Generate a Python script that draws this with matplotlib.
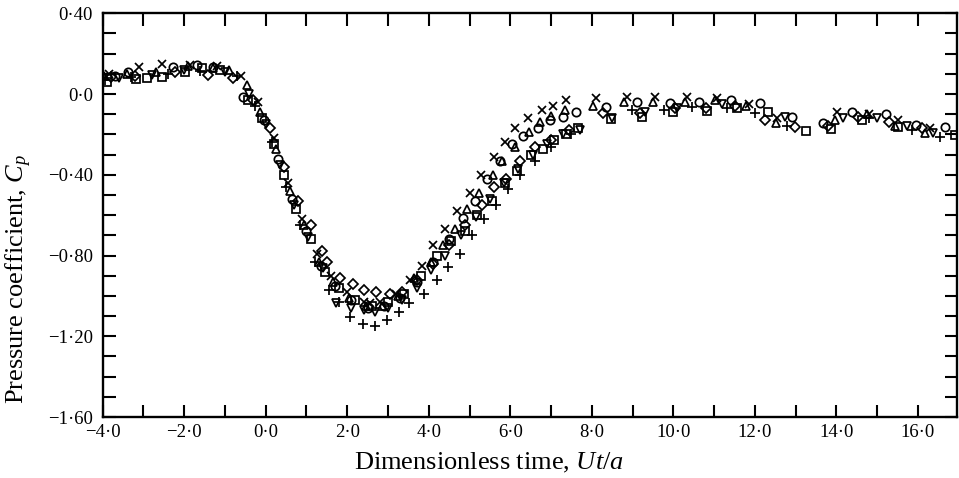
import matplotlib.pyplot as plt
from matplotlib.ticker import MultipleLocator, FuncFormatter

plt.rcParams["font.family"] = ["Liberation Serif", "DejaVu Serif"]
plt.rcParams["mathtext.fontset"] = "custom"
plt.rcParams["mathtext.it"] = "Liberation Serif:italic"
plt.rcParams["mathtext.rm"] = "Liberation Serif"

# values, one list pair per symbol
cross_x = [-3.85, -3.1, -2.55, -1.85, -1.2, -0.6, -0.2, 0.2, 0.55, 0.9, 1.25,
           1.6, 2.0, 2.4, 2.56, 2.8, 3.2, 3.54, 3.83, 4.11, 4.40, 4.69, 5.01,
           5.28, 5.59, 5.86, 6.12, 6.44, 6.77, 7.04, 7.36, 8.1, 8.86, 9.55,
           10.33, 11.08, 11.85, 12.54, 14.01, 14.8, 15.5, 16.3]
cross_y = [0.10, 0.135, 0.15, 0.145, 0.14, 0.09, -0.04, -0.22, -0.44, -0.62,
           -0.79, -0.90, -0.98, -1.03, -1.036, -1.03, -0.99, -0.92, -0.85,
           -0.75, -0.67, -0.58, -0.49, -0.40, -0.31, -0.24, -0.17, -0.12,
           -0.08, -0.06, -0.03, -0.02, -0.013, -0.013, -0.015, -0.02, -0.05,
           -0.12, -0.09, -0.10, -0.13, -0.17]

tri_x = [-3.97, -3.4, -2.7, -1.9, -1.3, -0.89, -0.47, -0.15, 0.25, 0.6, 0.95,
         1.3, 1.65, 2.05, 2.45, 2.85, 3.25, 3.65, 4.05, 4.35, 4.65, 4.93,
         5.24, 5.57, 5.79, 6.12, 6.47, 6.73, 6.99, 7.33, 8.04, 8.80, 9.51,
         10.29, 11.03, 11.79, 12.52, 13.97, 14.75, 15.44, 16.18]
tri_y = [0.09, 0.10, 0.11, 0.14, 0.13, 0.12, 0.045, -0.09, -0.27, -0.48,
         -0.65, -0.83, -0.93, -1.01, -1.05, -1.05, -1.00, -0.91, -0.83,
         -0.75, -0.67, -0.57, -0.49, -0.40, -0.33, -0.26, -0.19, -0.14,
         -0.11, -0.08, -0.06, -0.04, -0.04, -0.04, -0.03, -0.06, -0.145,
         -0.13, -0.10, -0.16, -0.195]

circ_x = [-3.7, -3.37, -2.27, -1.69, -1.29, -0.55, -0.05, 0.3, 0.65, 1.0,
          1.35, 1.7, 2.1, 2.5, 2.9, 3.3, 3.7, 4.1, 4.5, 4.83, 5.14, 5.42,
          5.75, 6.04, 6.31, 6.67, 6.98, 7.29, 7.60, 8.35, 9.12, 9.92, 10.62,
          11.41, 12.13, 12.91, 13.67, 14.38, 15.22, 15.96, 16.67]
circ_y = [0.09, 0.11, 0.135, 0.145, 0.135, -0.013, -0.13, -0.32, -0.52,
          -0.68, -0.85, -0.95, -1.02, -1.06, -1.05, -1.01, -0.93, -0.83,
          -0.72, -0.615, -0.53, -0.42, -0.33, -0.25, -0.21, -0.17, -0.13,
          -0.115, -0.09, -0.063, -0.04, -0.046, -0.038, -0.03, -0.043,
          -0.112, -0.142, -0.088, -0.10, -0.153, -0.162]

sq_x = [-3.9, -3.17, -2.92, -2.55, -1.98, -1.57, -1.12, -0.43, -0.1, 0.2,
        0.45, 0.75, 1.1, 1.45, 1.8, 2.2, 2.6, 3.0, 3.4, 3.8, 4.2, 4.55, 4.89,
        5.18, 5.55, 5.87, 6.17, 6.50, 6.81, 7.07, 7.37, 7.67, 8.47, 9.23,
        10.0, 10.82, 11.56, 12.33, 13.25, 13.86, 14.63, 15.5, 16.92]
sq_y = [0.061, 0.073, 0.078, 0.086, 0.11, 0.127, 0.119, -0.03, -0.12, -0.25,
        -0.40, -0.57, -0.72, -0.88, -0.96, -1.02, -1.05, -1.03, -0.99, -0.90,
        -0.80, -0.73, -0.68, -0.60, -0.53, -0.44, -0.38, -0.30, -0.27, -0.23,
        -0.20, -0.17, -0.125, -0.112, -0.088, -0.084, -0.071, -0.088, -0.182,
        -0.175, -0.13, -0.165, -0.203]

dia_x = [-3.8, -3.2, -2.23, -1.41, -0.79, -0.3, 0.1, 0.45, 0.8, 1.1, 1.37,
         1.5, 1.82, 2.13, 2.41, 2.71, 3.05, 3.34, 3.7, 4.1, 4.5, 4.9, 5.3,
         5.6, 5.9, 6.25, 6.6, 7.0, 7.45, 8.27, 9.19, 10.05, 10.8, 11.5, 12.25,
         12.99, 13.8, 14.54, 15.28, 16.1]
dia_y = [0.085, 0.09, 0.11, 0.094, 0.078, -0.03, -0.17, -0.36, -0.53, -0.65,
         -0.78, -0.83, -0.91, -0.94, -0.97, -0.98, -0.99, -0.98, -0.92,
         -0.84, -0.75, -0.65, -0.55, -0.46, -0.42, -0.33, -0.26, -0.23, -0.18,
         -0.096, -0.096, -0.07, -0.07, -0.06, -0.129, -0.162, -0.16, -0.112,
         -0.137, -0.17]

tdn_x = [-3.6, -2.8, -2.0, -1.0, -0.4, 0.0, 0.35, 0.7, 1.05, 1.4, 1.73, 2.09,
         2.40, 2.68, 3.0, 3.35, 3.7, 4.05, 4.4, 4.8, 5.15, 5.5, 5.85, 6.2,
         6.55, 6.9, 7.3, 7.7, 8.5, 9.3, 10.1, 11.19, 12.73, 14.17, 14.99,
         15.73, 16.38]
tdn_y = [0.08, 0.095, 0.12, 0.11, 0.0, -0.15, -0.35, -0.55, -0.71, -0.86,
         -1.036, -1.06, -1.07, -1.08, -1.06, -1.02, -0.96, -0.87, -0.80,
         -0.70, -0.61, -0.52, -0.44, -0.37, -0.30, -0.25, -0.20, -0.18, -0.12,
         -0.09, -0.07, -0.05, -0.115, -0.12, -0.12, -0.158, -0.195]

plus_x = [-3.95, -3.3, -2.4, -1.6, -0.7, -0.25, 0.15, 0.5, 0.85, 1.2, 1.55,
          1.8, 2.07, 2.38, 2.68, 2.97, 3.27, 3.52, 3.88, 4.21, 4.48, 4.77,
          5.06, 5.35, 5.65, 5.95, 6.25, 6.6, 7.0, 7.5, 8.98, 9.76, 10.45,
          11.31, 12.0, 12.79, 14.8, 15.85, 16.55]
plus_y = [0.07, 0.085, 0.10, 0.115, 0.09, -0.06, -0.24, -0.46, -0.65, -0.83,
          -0.97, -1.03, -1.105, -1.139, -1.149, -1.119, -1.078, -1.033, -0.99,
          -0.92, -0.855, -0.79, -0.70, -0.62, -0.55, -0.47, -0.40, -0.33,
          -0.26, -0.20, -0.079, -0.079, -0.063, -0.071, -0.092, -0.158, -0.12,
          -0.18, -0.211]

series = [
    (cross_x, cross_y, "x", 6.0),
    (tri_x, tri_y, "^", 6.0),
    (circ_x, circ_y, "o", 6.0),
    (sq_x, sq_y, "s", 5.5),
    (dia_x, dia_y, "D", 5.0),
    (tdn_x, tdn_y, "v", 6.0),
    (plus_x, plus_y, "+", 7.0),
]


def dot_label(v, decimals):
    if abs(v) < 1e-9:
        return "0·0"
    txt = f"{abs(v):.{decimals}f}".replace(".", "·")
    return ("−" if v < 0 else "") + txt


fig = plt.figure(figsize = (9.59, 4.78), dpi = 100)
ax = fig.add_axes([0.107, 0.1276, 0.8906, 0.8446])

for xs, ys, m, ms in series:
    ax.plot(xs, ys, linestyle = "none", marker = m, markersize = ms,
            markerfacecolor = "none", markeredgecolor = "black",
            markeredgewidth = 1.25)

ax.set_xlim(-4.0, 16.95)
ax.set_ylim(-1.6, 0.4)

ax.xaxis.set_major_locator(MultipleLocator(2.0))
ax.xaxis.set_minor_locator(MultipleLocator(1.0))
ax.yaxis.set_major_locator(MultipleLocator(0.4))
ax.yaxis.set_minor_locator(MultipleLocator(0.1))
ax.xaxis.set_major_formatter(FuncFormatter(lambda v, p: dot_label(v, 1)))
ax.yaxis.set_major_formatter(FuncFormatter(lambda v, p: dot_label(v, 2)))

ax.tick_params(which = "both", direction = "in", top = True, right = True,
               length = 9, width = 1.5, color = "black")
ax.tick_params(axis = "x", which = "major", labelsize = 13.5, pad = 5)
ax.tick_params(axis = "y", which = "major", labelsize = 13.5, pad = 7)

for sp in ax.spines.values():
    sp.set_linewidth(1.7)

ax.set_xlabel("Dimensionless time, $Ut/a$", fontsize = 19)
ax.set_ylabel("Pressure coefficient, $C_p$", fontsize = 19)
# the printed labels sit off-centre
ax.xaxis.set_label_coords(0.452, -0.085)
ax.yaxis.set_label_coords(-0.080, 0.342)

fig.savefig("out.png", dpi = 100)
